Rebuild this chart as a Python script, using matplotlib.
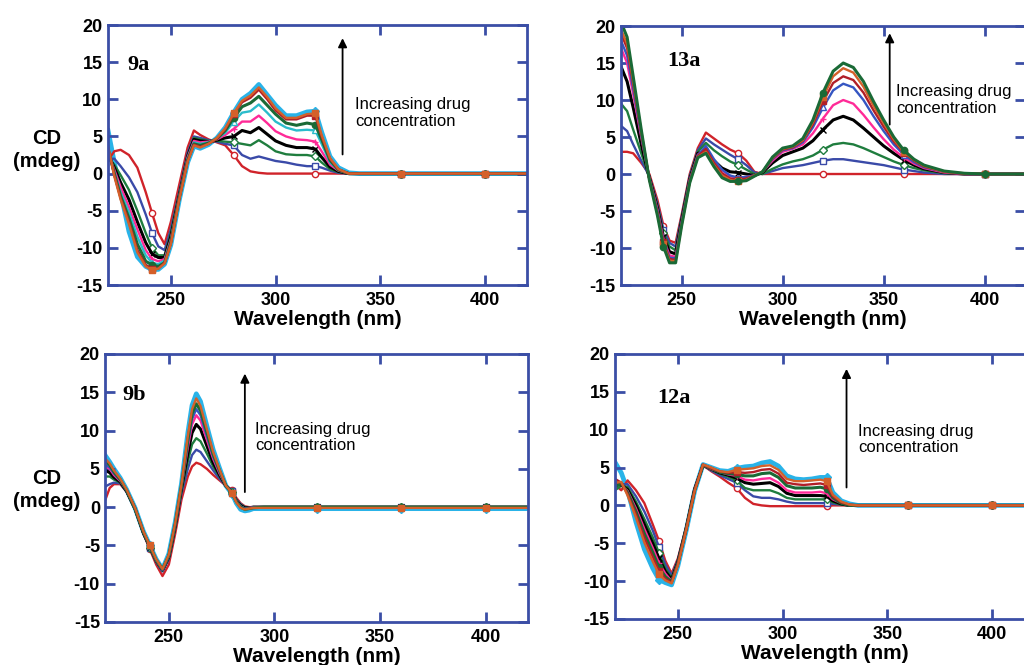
import matplotlib
matplotlib.use("Agg")
import matplotlib.pyplot as plt

plt.rcParams['axes.unicode_minus'] = False

# wavelength grids (nm) for each panel
wl_9a = [220, 223, 226, 230, 234, 238, 241, 244, 247, 250, 254, 258, 261, 264, 268, 272, 276, 280, 284, 288,
         292, 296, 300, 305, 310, 315, 319, 322, 326, 330, 335, 340, 360, 380, 400, 420]
wl_13a = [220, 223, 226, 230, 234, 238, 241, 244, 247, 250, 254, 258, 262, 266, 270, 274, 278, 282, 286, 290,
          295, 300, 305, 310, 315, 320, 325, 330, 335, 340, 345, 350, 355, 360, 365, 370, 380, 390, 400, 420]
wl_9b = [220, 222, 224, 227, 230, 234, 238, 241, 244, 247, 250, 253, 256, 259, 261, 263, 265, 268, 271, 274,
         277, 280, 282, 284, 286, 288, 290, 295, 300, 320, 340, 360, 380, 400, 420]
wl_12a = [220, 223, 226, 230, 234, 238, 241, 244, 247, 250, 254, 258, 262, 266, 270, 274, 278, 282, 286, 290,
          294, 298, 302, 306, 310, 314, 318, 321, 324, 328, 332, 336, 340, 360, 380, 400, 420]

# CD (mdeg), one row per titration step, lowest drug concentration first
cd_9a = [
    [1.8, 3.0, 3.2, 2.5, 0.8, -2.5, -5.3, -8.0, -9.5, -6.5, -1.5, 3.5, 5.8, 5.2, 4.6, 4.2, 3.8, 2.5, 1.0, 0.3,
     0.1, 0, 0, 0, 0, 0, 0, 0, 0, 0, 0, 0, 0, 0, 0, 0],
    [2.0, 2.0, 1.0, -0.5, -2.5, -5.5, -8.0, -9.8, -10.3, -7.5, -2.5, 2.8, 5.0, 4.8, 4.5, 4.3, 4.0, 3.8, 2.5, 2.0,
     2.3, 2.0, 1.7, 1.5, 1.2, 1.0, 1.0, 0.8, 0.4, 0.1, 0, 0, 0, 0, 0, 0],
    [2.2, 1.2, -0.2, -2.2, -5.0, -8.0, -10.0, -11.0, -11.0, -8.0, -2.8, 2.5, 4.8, 4.6, 4.4, 4.4, 4.3, 4.2, 4.0, 3.8,
     4.5, 3.8, 3.0, 2.6, 2.5, 2.5, 2.3, 1.5, 0.6, 0.2, 0, 0, 0, 0, 0, 0],
    [2.5, 0.8, -1.2, -3.5, -6.5, -9.3, -10.8, -11.3, -11.3, -8.5, -3.0, 2.3, 4.6, 4.4, 4.3, 4.5, 4.8, 5.0, 5.8, 5.5,
     6.2, 5.3, 4.4, 3.8, 3.5, 3.5, 3.3, 2.2, 0.9, 0.3, 0, 0, 0, 0, 0, 0],
    [2.8, 0.5, -1.8, -4.5, -7.5, -10.3, -11.5, -11.8, -11.5, -8.8, -3.1, 2.2, 4.4, 4.2, 4.3, 4.6, 5.2, 6.0, 7.0, 7.0,
     7.8, 6.8, 5.7, 5.0, 4.6, 4.5, 4.3, 3.0, 1.2, 0.4, 0, 0, 0, 0, 0, 0],
    [3.0, 0.2, -2.5, -5.2, -8.5, -11.0, -12.0, -12.2, -11.7, -9.0, -3.2, 2.0, 4.2, 4.0, 4.2, 4.7, 5.5, 7.0, 8.2, 8.4,
     9.3, 8.2, 7.0, 6.2, 5.8, 5.9, 5.8, 4.0, 1.5, 0.5, 0, 0, 0, 0, 0, 0],
    [3.3, 0.0, -3.0, -6.0, -9.5, -11.8, -12.3, -12.5, -12.0, -9.2, -3.3, 1.8, 4.0, 3.8, 4.1, 4.7, 5.8, 7.5, 9.0, 9.5,
     10.4, 9.2, 8.0, 6.8, 6.5, 6.8, 6.6, 4.6, 1.8, 0.5, 0, 0, 0, 0, 0, 0],
    [3.5, -0.2, -3.3, -6.5, -10.3, -12.3, -12.8, -12.8, -12.0, -9.4, -3.4, 1.7, 3.9, 3.6, 4.0, 4.7, 6.0, 8.0, 9.6, 10.2,
     11.3, 10.0, 8.5, 7.3, 7.3, 7.8, 7.8, 5.0, 2.0, 0.6, 0, 0, 0, 0, 0, 0],
    [3.8, -0.4, -3.5, -6.8, -10.6, -12.5, -13.0, -12.8, -12.1, -9.5, -3.5, 1.6, 3.8, 3.5, 4.0, 4.8, 6.1, 8.1, 9.8, 10.5,
     11.6, 10.3, 8.8, 7.5, 7.5, 8.0, 8.1, 5.2, 2.1, 0.6, 0, 0, 0, 0, 0, 0],
    [5.8, 1.5, -2.5, -7.8, -11.2, -12.5, -12.9, -12.9, -12.2, -9.6, -3.6, 1.5, 3.7, 3.4, 3.9, 4.8, 6.2, 8.2, 10.0, 10.8,
     12.0, 10.6, 9.2, 7.8, 7.8, 8.3, 8.4, 5.6, 2.3, 0.8, 0.1, 0, 0, 0, 0, 0],
]

cd_13a = [
    [3.0, 3.0, 2.8, 1.5, 0.0, -3.5, -7.0, -9.0, -9.3, -5.5, 0.0, 3.5, 5.6, 4.8, 4.0, 3.3, 2.8, 1.8, 0.3, 0.0,
     0, 0, 0, 0, 0, 0, 0, 0, 0, 0, 0, 0, 0, 0, 0, 0, 0, 0, 0, 0],
    [6.5, 5.8, 4.0, 1.8, -0.3, -4.0, -7.5, -9.3, -9.8, -5.8, -0.3, 3.2, 4.8, 4.0, 3.3, 2.6, 2.0, 1.2, 0.2, 0.0,
     0.4, 0.8, 1.0, 1.2, 1.5, 1.8, 2.0, 2.0, 1.8, 1.6, 1.4, 1.2, 0.9, 0.6, 0.4, 0.2, 0, 0, 0, 0],
    [9.5, 8.5, 6.0, 2.8, -0.4, -4.3, -8.0, -9.8, -10.3, -6.0, -0.5, 3.0, 4.2, 3.2, 2.4, 1.7, 1.2, 0.6, 0.0, 0.0,
     0.7, 1.3, 1.7, 2.0, 2.5, 3.3, 4.0, 4.2, 4.0, 3.5, 2.9, 2.3, 1.7, 1.2, 0.8, 0.5, 0.1, 0, 0, 0],
    [14.5, 12.5, 9.0, 4.0, -0.5, -4.6, -8.5, -10.5, -10.8, -6.3, -0.7, 2.8, 3.0, 1.8, 0.8, 0.3, 0.2, 0.0, -0.2, 0.2,
     1.5, 2.5, 3.0, 3.5, 4.5, 6.0, 7.3, 7.8, 7.3, 6.2, 5.0, 3.8, 2.8, 1.9, 1.2, 0.7, 0.2, 0, 0, 0],
    [17.0, 15.0, 10.8, 5.0, -0.6, -4.8, -8.8, -11.0, -11.2, -6.5, -0.8, 2.6, 3.5, 1.8, 0.5, -0.3, -0.5, -0.4, -0.2, 0.3,
     1.8, 3.0, 3.4, 4.0, 5.5, 7.5, 9.3, 10.0, 9.5, 8.0, 6.3, 4.7, 3.3, 2.2, 1.4, 0.8, 0.2, 0, 0, 0],
    [18.0, 16.0, 11.5, 5.3, -0.6, -5.0, -9.0, -11.3, -11.4, -6.6, -0.9, 2.5, 3.8, 2.0, 0.6, -0.2, -0.5, -0.4, -0.2, 0.3,
     2.0, 3.2, 3.5, 4.3, 6.3, 9.0, 11.3, 12.2, 11.7, 10.0, 7.8, 5.8, 4.0, 2.6, 1.6, 0.9, 0.3, 0, 0, 0],
    [19.0, 17.0, 12.2, 5.6, -0.7, -5.2, -9.2, -11.5, -11.6, -6.8, -1.0, 2.4, 3.4, 1.5, 0.1, -0.6, -0.8, -0.6, -0.2, 0.3,
     2.1, 3.3, 3.6, 4.5, 6.7, 9.8, 12.3, 13.2, 12.7, 11.0, 8.6, 6.4, 4.4, 2.9, 1.8, 1.0, 0.3, 0, 0, 0],
    [19.5, 17.6, 12.6, 5.8, -0.7, -5.4, -9.5, -11.7, -11.8, -6.9, -1.1, 2.3, 3.0, 1.2, -0.2, -0.8, -1.0, -0.8, -0.2, 0.3,
     2.2, 3.4, 3.7, 4.6, 7.0, 10.4, 13.2, 14.3, 13.7, 11.8, 9.2, 6.9, 4.7, 3.0, 1.9, 1.1, 0.3, 0.1, 0, 0],
    [20.5, 18.5, 13.2, 6.0, -0.8, -5.6, -9.8, -12.0, -12.0, -7.0, -1.2, 2.2, 2.8, 1.0, -0.5, -1.0, -1.0, -0.9, -0.3, 0.3,
     2.3, 3.5, 3.8, 4.8, 7.3, 11.0, 13.9, 15.0, 14.4, 12.5, 9.8, 7.3, 5.0, 3.2, 2.0, 1.2, 0.4, 0.1, 0, 0],
]

cd_9b = [
    [1.0, 2.5, 3.0, 3.0, 2.0, -0.3, -3.5, -5.5, -7.5, -9.0, -7.5, -3.5, 1.0, 4.0, 5.3, 5.8, 5.6, 5.0, 4.2, 3.5,
     2.8, 2.2, 1.2, 0.5, 0.1, 0, 0, 0, 0, 0, 0, 0, 0, 0, 0],
    [2.7, 3.0, 3.2, 3.1, 2.0, -0.3, -3.5, -5.3, -7.2, -8.4, -6.8, -2.8, 1.8, 5.0, 6.8, 7.5, 7.2, 6.0, 4.8, 3.7,
     2.8, 2.1, 1.0, 0.4, 0.0, -0.1, 0, 0, 0, 0, 0, 0, 0, 0, 0],
    [4.0, 4.0, 3.6, 3.2, 2.1, -0.3, -3.4, -5.3, -7.1, -8.3, -6.6, -2.6, 2.2, 6.0, 8.2, 9.0, 8.6, 7.0, 5.3, 4.0,
     2.8, 2.0, 0.9, 0.3, 0.0, -0.1, 0, 0, 0, 0, 0, 0, 0, 0, 0],
    [4.8, 4.5, 3.9, 3.3, 2.1, -0.2, -3.4, -5.2, -7.0, -8.2, -6.5, -2.5, 2.5, 7.0, 9.7, 10.8, 10.2, 8.0, 5.8, 4.2,
     2.8, 1.9, 0.8, 0.2, -0.1, -0.1, 0, 0, 0, 0, 0, 0, 0, 0, 0],
    [5.3, 5.0, 4.2, 3.4, 2.2, -0.2, -3.3, -5.2, -7.0, -8.2, -6.4, -2.4, 2.7, 7.8, 10.8, 12.0, 11.3, 8.8, 6.3, 4.4,
     2.8, 1.9, 0.8, 0.1, -0.2, -0.1, 0, 0, 0, 0, 0, 0, 0, 0, 0],
    [5.5, 5.2, 4.4, 3.5, 2.2, -0.2, -3.3, -5.1, -6.9, -8.2, -6.4, -2.3, 2.8, 8.3, 11.5, 12.8, 12.0, 9.3, 6.6, 4.6,
     2.8, 1.9, 0.7, 0.1, -0.2, -0.2, 0, 0, 0, 0, 0, 0, 0, 0, 0],
    [6.0, 5.5, 4.6, 3.6, 2.2, -0.2, -3.3, -5.1, -6.9, -8.1, -6.3, -2.2, 2.9, 8.8, 12.2, 13.5, 12.6, 9.8, 6.9, 4.8,
     2.8, 1.8, 0.7, 0.0, -0.3, -0.2, -0.1, 0, 0, 0, 0, 0, 0, 0, 0],
    [6.3, 5.7, 4.8, 3.7, 2.3, -0.1, -3.2, -5.0, -6.8, -8.1, -6.2, -2.1, 3.0, 9.3, 12.8, 14.2, 13.2, 10.2, 7.2, 4.9,
     2.8, 1.8, 0.6, -0.1, -0.3, -0.2, -0.1, -0.1, -0.1, -0.1, -0.1, -0.1, -0.1, -0.1, -0.1],
    [6.7, 5.9, 5.0, 3.8, 2.3, -0.1, -3.2, -5.0, -6.8, -8.1, -6.1, -2.0, 3.1, 9.7, 13.3, 14.8, 13.8, 10.6, 7.5, 5.1,
     2.8, 1.7, 0.5, -0.3, -0.5, -0.4, -0.2, -0.2, -0.2, -0.2, -0.2, -0.2, -0.2, -0.2, -0.2],
]

cd_12a = [
    [2.7, 2.0, 3.3, 2.0, 0.3, -2.5, -4.7, -7.3, -9.0, -7.0, -2.8, 2.3, 5.3,
     4.5, 3.8, 3.0, 2.3, 1.0, 0.2, 0, -0.1, -0.1, -0.1, -0.1, -0.1, -0.1, -0.1, -0.1, 0, 0, 0, 0, 0, 0, 0, 0, 0],
    [2.5, 2.8, 2.8, 1.2, -0.8, -3.3, -5.5, -7.8, -9.3, -7.2, -2.9, 2.2, 5.3,
     4.6, 4.0, 3.5, 3.0, 2.0, 1.2, 1.0, 1.0, 0.8, 0.5, 0.3, 0.3, 0.3, 0.3, 0.3, 0.2, 0.1, 0, 0, 0, 0, 0, 0, 0],
    [2.0, 2.6, 2.4, 0.5, -1.8, -4.2, -6.3, -8.3, -9.6, -7.4, -3.0, 2.1, 5.3,
     4.7, 4.2, 3.8, 3.3, 2.3, 2.0, 2.0, 2.0, 1.6, 1.0, 0.8, 0.8, 0.8, 0.8, 0.8, 0.4, 0.1, 0, 0, 0, 0, 0, 0, 0],
    [3.0, 2.7, 2.1, 0.0, -2.5, -5.0, -7.0, -8.7, -9.8, -7.5, -3.0, 2.1, 5.3,
     4.8, 4.3, 4.0, 3.6, 3.0, 2.8, 2.9, 3.0, 2.5, 1.6, 1.3, 1.3, 1.3, 1.3, 1.2, 0.6, 0.2, 0, 0, 0, 0, 0, 0, 0],
    [3.2, 2.8, 1.9, -0.4, -3.1, -5.6, -7.6, -9.0, -10.0, -7.6, -3.1, 2.0, 5.3,
     4.8, 4.4, 4.1, 3.9, 3.4, 3.3, 3.5, 3.6, 3.0, 2.0, 1.7, 1.7, 1.7, 1.8, 1.6, 0.8, 0.3, 0, 0, 0, 0, 0, 0, 0],
    [2.5, 2.9, 1.7, -0.8, -3.7, -6.2, -8.2, -9.4, -10.1, -7.7, -3.1, 2.0, 5.3,
     4.9, 4.4, 4.2, 4.1, 3.9, 3.9, 4.2, 4.3, 3.7, 2.6, 2.3, 2.3, 2.3, 2.4, 2.2, 1.0, 0.3, 0, 0, 0, 0, 0, 0, 0],
    [3.5, 3.0, 1.5, -1.2, -4.3, -6.8, -8.7, -9.7, -10.2, -7.8, -3.2, 2.0, 5.4,
     4.9, 4.5, 4.3, 4.4, 4.3, 4.4, 4.7, 4.8, 4.2, 3.0, 2.8, 2.7, 2.8, 2.9, 2.7, 1.2, 0.4, 0.1, 0, 0, 0, 0, 0, 0],
    [3.0, 3.1, 1.3, -1.6, -4.9, -7.4, -9.1, -9.9, -10.3, -7.9, -3.2, 1.9, 5.4,
     5.0, 4.5, 4.4, 4.7, 4.8, 4.9, 5.2, 5.3, 4.7, 3.5, 3.2, 3.2, 3.3, 3.4, 3.2, 1.4, 0.5, 0.1, 0, 0, 0, 0, 0, 0],
    [5.7, 4.3, 2.0, -2.2, -5.8, -8.3, -9.8, -10.2, -10.5, -8.0, -3.3, 1.9, 5.4,
     5.0, 4.6, 4.5, 4.9, 5.1, 5.2, 5.6, 5.8, 5.2, 3.9, 3.5, 3.4, 3.5, 3.7, 3.7, 1.7, 0.6, 0.2, 0, 0, 0, 0, 0, 0],
]

RED, BLUE, GREEN, BLACK, PINK = '#d0232a', '#3a4aa8', '#1f7d3e', '#000000', '#ff2a97'
TEAL, DKGREEN, RED2, ORANGE, CYAN, BLUE2 = '#2abccb', '#1a6a36', '#b01e28', '#d4602a', '#29b3e8', '#3556c2'
SPINE = '#3b4ea6'

colors_9a = [RED, BLUE, GREEN, BLACK, PINK, TEAL, DKGREEN, RED2, ORANGE, CYAN]
colors_13a = [RED, BLUE, GREEN, BLACK, PINK, BLUE2, RED2, ORANGE, DKGREEN]
colors_9b = [RED, BLUE, GREEN, BLACK, PINK, BLUE2, DKGREEN, ORANGE, CYAN]
colors_12a = [RED, BLUE, GREEN, BLACK, PINK, DKGREEN, RED2, ORANGE, CYAN]

marker_for = {RED: ('o', 'none'), BLUE: ('s', 'none'), GREEN: ('D', 'none'), BLACK: ('x', 'none'),
              PINK: ('+', 'none'), TEAL: ('^', 'none'), BLUE2: ('^', 'none'), DKGREEN: ('o', 'fill'),
              RED2: ('s', 'fill'), ORANGE: ('s', 'fill'), CYAN: ('D', 'fill')}
mark_wl = [240, 280, 320, 360, 400]

sans = ['Liberation Sans', 'DejaVu Sans']
serif = ['Liberation Serif', 'DejaVu Serif']

fig = plt.figure(figsize=(10.24, 6.65), dpi=100)


def panel(rect, wl, rows, cols, tag, tag_xy, arrow_x, arrow_y, text_xy):
    ax = fig.add_axes(rect)
    idx = [min(range(len(wl)), key=lambda i: abs(wl[i] - t)) for t in mark_wl]
    for y, c in zip(rows, cols):
        m, f = marker_for[c]
        lw = 3.4 if c == CYAN else (2.2 if c in (BLACK, DKGREEN) else 1.7)
        z = 1 if c == CYAN else 2
        ax.plot(wl, y, color=c, lw=lw, zorder=z, marker=m, markevery=idx, ms=4.5,
                mfc=(c if f == 'fill' else 'white'), mec=c, mew=1.0)
    ax.set_xlim(220, 420)
    ax.set_ylim(-15, 20)
    ax.set_xticks([250, 300, 350, 400])
    ax.set_yticks(range(-15, 21, 5))
    for s in ax.spines.values():
        s.set_color(SPINE)
        s.set_linewidth(2)
    ax.tick_params(direction='in', length=7, width=2, color=SPINE, top=True, right=True, labelsize=13)
    ax.tick_params(axis='x', pad=5)
    ax.tick_params(axis='y', pad=4)
    for lab in ax.get_xticklabels() + ax.get_yticklabels():
        lab.set_fontweight('bold')
        lab.set_family(sans)
    ax.set_xlabel('Wavelength (nm)', fontsize=15, fontweight='bold', family=sans, labelpad=1)
    ax.text(tag_xy[0], tag_xy[1], tag, fontsize=16, fontweight='bold', family=serif, va='center')
    ax.annotate('', xy=(arrow_x, arrow_y[1]), xytext=(arrow_x, arrow_y[0]),
                arrowprops=dict(arrowstyle='-|>', color='black', lw=1.3, mutation_scale=13))
    ax.text(text_xy[0], text_xy[1], 'Increasing drug\nconcentration', fontsize=12, family=sans,
            va='center', ha='left', linespacing=1.15)
    return ax


panel([0.1055, 0.5714, 0.409, 0.391], wl_9a, cd_9a, colors_9a, '9a', (229, 14.6), 332, (2.2, 18.6), (338, 8.2))
panel([0.6065, 0.5714, 0.3945, 0.3895], wl_13a, cd_13a, colors_13a, '13a', (243, 15.3), 353, (6.3, 19.4), (356, 10.0))
panel([0.103, 0.0647, 0.4125, 0.403], wl_9b, cd_9b, colors_9b, '9b', (228, 14.6), 286, (1.6, 17.8), (291, 9.1))
panel([0.6006, 0.0692, 0.4092, 0.3985], wl_12a, cd_12a, colors_12a, '12a', (240, 14.2), 330.5, (2.0, 18.4), (336, 8.7))

fig.text(0.046, 1 - 150 / 665, 'CD\n(mdeg)', fontsize=14.5, fontweight='bold', family=sans,
         ha='center', va='center', linespacing=1.25)
fig.text(0.046, 1 - 490 / 665, 'CD\n(mdeg)', fontsize=14.5, fontweight='bold', family=sans,
         ha='center', va='center', linespacing=1.25)

fig.savefig('out.png', dpi=100)
